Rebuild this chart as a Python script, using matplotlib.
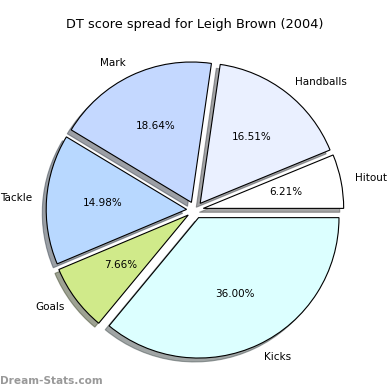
import matplotlib
matplotlib.use('Agg')
import matplotlib.pyplot as plt

labels = ['Hitout', 'Handballs', 'Mark', 'Tackle', 'Goals', 'Kicks']
values = [6.21, 16.51, 18.64, 14.98, 7.66, 36.00]
colors = ['#ffffff', '#eaf0ff', '#c4d8ff', '#b8d8ff', '#d0ea8a', '#dcffff']
explode = [0.06] * len(values)

fig = plt.figure(figsize=(3.9, 3.9), dpi=100)
ax = fig.add_axes([0.05, 0.0115, 0.9, 0.9])
wedges, texts, autotexts = ax.pie(values, labels=labels, colors=colors, explode=explode,
                                  autopct='%1.2f%%', shadow=True, startangle=0,
                                  labeldistance=1.1,
                                  wedgeprops={'edgecolor': 'black', 'linewidth': 0.8},
                                  textprops={'fontsize': 7.5})
ax.set_aspect('equal')
fig.text(0.5, 0.936, 'DT score spread for Leigh Brown (2004)', ha='center', va='center', fontsize=9.3)
fig.text(0.0, 0.022, 'Dream-Stats.com', ha='left', va='center', fontsize=7.6,
         color='#999999', fontweight='bold')
fig.savefig('out.png', dpi=100)
